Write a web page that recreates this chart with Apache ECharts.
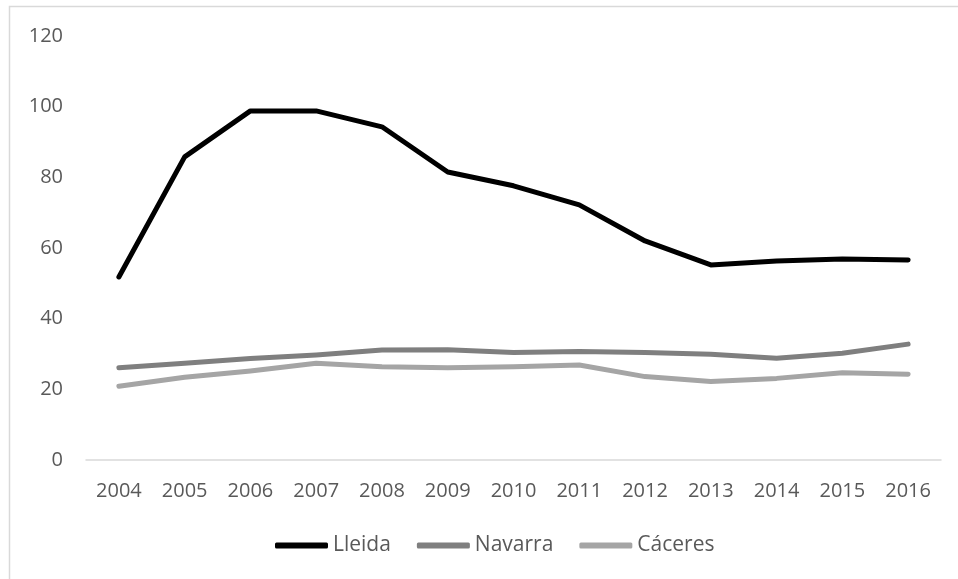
<!DOCTYPE html>
<html>
<head>
<meta charset="utf-8">
<script src="https://cdn.jsdelivr.net/npm/echarts@6/dist/echarts.min.js"></script>
<style>
  html, body { margin: 0; padding: 0; background: #fff; }
  #chart { width: 958px; height: 579px; }
</style>
</head>
<body>
<div id="chart"></div>
<script>
// Years on the category axis
const years = ['2004', '2005', '2006', '2007', '2008', '2009', '2010', '2011', '2012', '2013', '2014', '2015', '2016'];

// Series values per province
const lleida  = [51.8, 85.8, 98.8, 98.8, 94.3, 81.5, 77.6, 72.2, 62.0, 55.2, 56.3, 56.9, 56.6];
const navarra = [26.1, 27.4, 28.7, 29.7, 31.1, 31.2, 30.4, 30.7, 30.4, 29.9, 28.8, 30.2, 32.8];
const caceres = [20.9, 23.4, 25.2, 27.4, 26.4, 26.1, 26.4, 26.9, 23.6, 22.2, 23.1, 24.7, 24.3];

const seriesNames = ['Lleida', 'Navarra', 'Cáceres'];
const seriesColors = ['#000000', '#7f7f7f', '#a5a5a5'];

const font = 'Open Sans';
const textColor = '#595959';

const chart = echarts.init(document.getElementById('chart'), null, { renderer: 'canvas' });

const makeLine = (name, data, color) => ({
  name: name,
  type: 'line',
  data: data,
  symbol: 'none',
  smooth: false,
  color: color,
  lineStyle: { color: color, width: 5, cap: 'round', join: 'round' },
  emphasis: { disabled: true }
});

chart.setOption({
  animation: false,
  backgroundColor: '#ffffff',
  graphic: [{
    type: 'rect',
    shape: { x: 9.5, y: 6.5, width: 1200, height: 1200 },
    style: { fill: 'none', stroke: '#d9d9d9', lineWidth: 1.5 },
    silent: true
  }],
  grid: { left: 86, right: 17, top: 36, bottom: 119, containLabel: false },
  legend: {
    data: seriesNames,
    bottom: 18,
    left: 270,
    icon: 'roundRect',
    itemWidth: 53,
    itemHeight: 6,
    itemGap: 26,
    textStyle: { fontFamily: font, fontSize: 21, color: textColor },
    selectedMode: false
  },
  xAxis: {
    type: 'category',
    data: years,
    boundaryGap: true,
    axisLine: { show: true, lineStyle: { color: '#d9d9d9', width: 1.5 } },
    axisTick: { show: false },
    axisLabel: { fontFamily: font, fontSize: 20, color: textColor, margin: 21 }
  },
  yAxis: {
    type: 'value',
    min: 0,
    max: 120,
    interval: 20,
    axisLine: { show: false },
    axisTick: { show: false },
    splitLine: { show: false },
    axisLabel: { fontFamily: font, fontSize: 20, color: textColor, margin: 23 }
  },
  series: [
    makeLine(seriesNames[0], lleida, seriesColors[0]),
    makeLine(seriesNames[1], navarra, seriesColors[1]),
    makeLine(seriesNames[2], caceres, seriesColors[2])
  ]
});
</script>
</body>
</html>
